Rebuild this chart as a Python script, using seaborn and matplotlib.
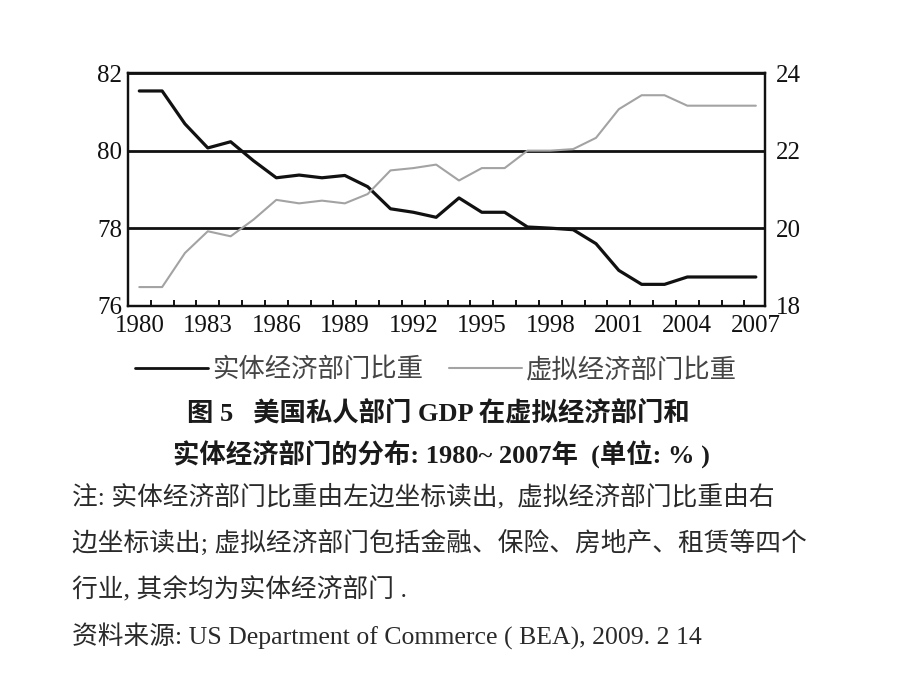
import matplotlib
matplotlib.use("Agg")
import matplotlib.pyplot as plt
import pandas as pd
import seaborn as sns
from matplotlib.ticker import FixedLocator, NullFormatter
from matplotlib.lines import Line2D

# ---------------- data ----------------
years = list(range(1980, 2008))
real_share = [81.54, 81.54, 80.69, 80.07, 80.23, 79.74, 79.30, 79.37, 79.30, 79.36,
              79.07, 78.50, 78.41, 78.28, 78.78, 78.41, 78.41, 78.03, 78.00, 77.96,
              77.60, 76.91, 76.55, 76.55, 76.74, 76.74, 76.74, 76.74]
virtual_share = [18.48, 18.48, 19.36, 19.92, 19.79, 20.22, 20.73, 20.64, 20.71, 20.64,
                 20.88, 21.49, 21.55, 21.64, 21.23, 21.55, 21.55, 22.00, 22.00, 22.04,
                 22.33, 23.07, 23.43, 23.43, 23.16, 23.16, 23.16, 23.16]
x_tick_years = [1980, 1983, 1986, 1989, 1992, 1995, 1998, 2001, 2004, 2007]
left_ticks = [76, 78, 80, 82]
right_ticks = [18, 20, 22, 24]
legend_labels = ["实体经济部门比重", "虚拟经济部门比重"]
title_lines = ["图 5   美国私人部门 GDP 在虚拟经济部门和",
               "实体经济部门的分布: 1980~ 2007年  (单位: % )"]
note_lines = ["注: 实体经济部门比重由左边坐标读出,  虚拟经济部门比重由右",
              "边坐标读出; 虚拟经济部门包括金融、保险、房地产、租赁等四个",
              "行业, 其余均为实体经济部门 .",
              "资料来源: US Department of Commerce ( BEA), 2009. 2 14"]

df = pd.DataFrame({"year": years, "real": real_share, "virtual": virtual_share})

# ---------------- style ----------------
sns.set_style("white")
plt.rcParams["font.family"] = ["Liberation Serif", "Noto Sans CJK SC", "DejaVu Sans"]

fig = plt.figure(figsize=(9.2, 6.9), dpi=100)
ax = fig.add_axes([0.139, 0.557, 0.6925, 0.337])
ax2 = ax.twinx()

real_color = "#111111"
virt_color = "#a3a3a3"

sns.lineplot(data=df, x="year", y="real", ax=ax, color=real_color, linewidth=2.3,
             legend=False, zorder=3)
sns.lineplot(data=df, x="year", y="virtual", ax=ax2, color=virt_color, linewidth=1.5,
             legend=False, zorder=2)

ax.set_xlim(1979.5, 2007.4)
ax.set_ylim(76, 82)
ax2.set_ylim(18, 24)

ax.set_xlabel("")
ax.set_ylabel("")
ax2.set_ylabel("")

# x ticks: labels at every 3 years (no mark), inward marks between years
ax.xaxis.set_major_locator(FixedLocator(x_tick_years))
ax.set_xticklabels([str(y) for y in x_tick_years])
ax.xaxis.set_minor_locator(FixedLocator([y + 0.5 for y in years[:-1]]))
ax.xaxis.set_minor_formatter(NullFormatter())
ax.tick_params(axis="x", which="major", length=0, pad=7, labelsize=18, colors="#111111")
ax.tick_params(axis="x", which="minor", direction="in", length=4, width=1.4,
               color="#111111", bottom=True)

ax.yaxis.set_major_locator(FixedLocator(left_ticks))
ax.set_yticklabels([str(v) for v in left_ticks])
ax.tick_params(axis="y", length=0, pad=4, labelsize=18, labelcolor="#111111")
ax2.yaxis.set_major_locator(FixedLocator(right_ticks))
ax2.set_yticklabels([str(v) for v in right_ticks])
ax2.tick_params(axis="y", length=0, pad=8, labelsize=18, labelcolor="#111111")

ax.grid(False)
ax2.grid(False)
ax.yaxis.grid(True, color="#111111", linewidth=2.0)
ax.set_axisbelow(False)

for a in (ax, ax2):
    for s in a.spines.values():
        s.set_color("#111111")
        s.set_linewidth(1.6)
        s.set_visible(True)

# legend below the axes
handles = [Line2D([], [], color=real_color, linewidth=2.0),
           Line2D([], [], color=virt_color, linewidth=1.5)]
leg = fig.legend(handles, legend_labels, loc="center", bbox_to_anchor=(0.474, 0.464),
                 ncol=2, frameon=False, handlelength=2.75, handletextpad=0.15,
                 columnspacing=1.0,
                 prop={"family": ["Noto Sans CJK SC"], "size": 19})
for t in leg.get_texts():
    t.set_color("#454545")

# caption
fig.text(0.477, 0.401, title_lines[0], ha="center", va="center", fontsize=19,
         fontweight="bold", color="#1a1a1a",
         family=["Liberation Serif", "Noto Sans CJK SC"])
fig.text(0.480, 0.343, title_lines[1], ha="center", va="center", fontsize=19,
         fontweight="bold", color="#1a1a1a",
         family=["Liberation Serif", "Noto Sans CJK SC"])

note_y = [0.280, 0.213, 0.145, 0.077]
for line, yy in zip(note_lines, note_y):
    fig.text(0.078, yy, line, ha="left", va="center", fontsize=18.5, color="#2a2a2a",
             family=["Liberation Serif", "Noto Sans CJK SC"])

fig.savefig("out.png", dpi=100, facecolor="white")
